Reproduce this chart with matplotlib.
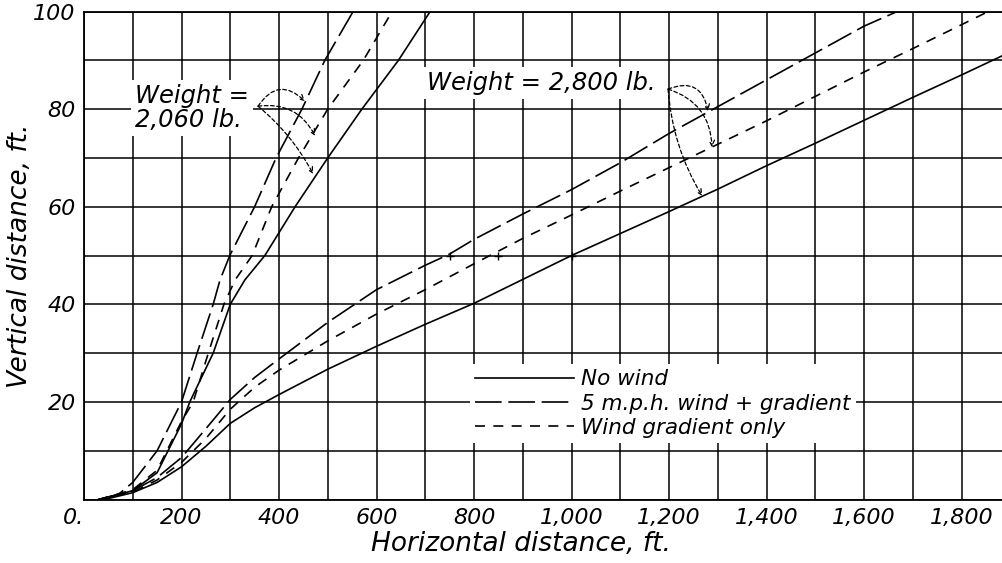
import matplotlib
matplotlib.use("Agg")
import matplotlib.pyplot as plt
from matplotlib.lines import Line2D

plt.rcParams['font.family'] = 'DejaVu Sans'
plt.rcParams['font.style'] = 'italic'

# take-off flight paths, horizontal distance (ft) vs height (ft)
# weight = 2,800 lb
heavy_x_calm = [30, 50, 100, 150, 200, 250, 300, 350, 400, 500, 600, 700, 800, 900, 1000,
                1100, 1200, 1300, 1400, 1500, 1600, 1700, 1800, 1885]
heavy_y_calm = [0, 0.2, 1.4, 3.5, 6.7, 10.9, 15.6, 18.8, 21.5, 26.7, 31.4, 35.9, 40.2, 45.1, 50,
                54.5, 59, 63.6, 68.4, 73, 77.7, 82.4, 87, 91]
heavy_x_wind = [30, 100, 150, 200, 250, 300, 350, 400, 500, 600, 700, 750, 800, 900, 1000,
                1100, 1200, 1300, 1400, 1500, 1600, 1668]
heavy_y_wind = [0, 1.8, 4.5, 8.6, 14.5, 20.5, 25, 28.8, 36.3, 43, 48, 50.3, 53.3, 58.5, 63.5,
                69, 75, 80.5, 86, 91.5, 97, 100]
heavy_x_grad = [30, 100, 150, 200, 250, 300, 350, 400, 500, 600, 700, 800, 900, 1000,
                1100, 1200, 1300, 1400, 1500, 1600, 1700, 1800, 1855]
heavy_y_grad = [0, 1.5, 4, 7.6, 12.5, 18.5, 23, 26.5, 32.5, 38, 43, 48.3, 53.5, 58.3,
                63.2, 68, 72.8, 77.6, 82.6, 87.6, 92.4, 97.3, 100]

# weight = 2,060 lb
light_x_calm = [30, 100, 150, 200, 217, 265, 300, 330, 371, 433, 500, 570, 645, 710]
light_y_calm = [0, 1.8, 5.5, 15.5, 20, 30, 40, 45, 50, 60, 70, 80, 90, 100]
light_x_wind = [30, 70, 100, 150, 200, 232, 265, 279, 299, 350, 394, 447, 494, 552]
light_y_wind = [0, 1, 3.5, 10, 20, 30, 40, 45, 50, 60, 70, 80, 90, 100]
light_x_grad = [30, 100, 150, 200, 224, 255, 287, 310, 345, 385, 440, 500, 573, 632]
light_y_grad = [0, 2, 6, 16, 20, 30, 40, 45, 50, 60, 70, 80, 90, 100]

# little check marks on the 50 ft line
mark_x = [750, 850, 1000]
mark_y = [50, 50, 50]

legend_labels = ['No wind', '5 m.p.h. wind + gradient', 'Wind gradient only']
x_ticks = list(range(0, 1900, 100))
y_ticks = list(range(0, 110, 10))

solid = '-'
long_dash = (0, (16, 4))
short_dash = (0, (6, 5))
lw = 1.2

fig = plt.figure(figsize=(10.03, 5.63), dpi=100)
ax = fig.add_axes([84 / 1003, 63.5 / 563, 919 / 1003, 488 / 563])

for xs, ys, ls in [(heavy_x_calm, heavy_y_calm, solid), (heavy_x_wind, heavy_y_wind, long_dash),
                   (heavy_x_grad, heavy_y_grad, short_dash), (light_x_calm, light_y_calm, solid),
                   (light_x_wind, light_y_wind, long_dash), (light_x_grad, light_y_grad, short_dash)]:
    ax.plot(xs, ys, color='black', lw=lw, linestyle=ls, zorder=3)

ax.plot(mark_x, mark_y, linestyle='none', marker='+', ms=6, mew=1.0, color='black', zorder=4)

ax.set_xlim(0, 1885)
ax.set_ylim(0, 100)
ax.set_xticks(x_ticks)
ax.set_yticks(y_ticks)
ax.set_xticklabels(['0.' if v == 0 else ('{:,}'.format(v) if v % 200 == 0 else '') for v in x_ticks])
ax.set_yticklabels(['' if (v == 0 or v % 20) else str(v) for v in y_ticks])
ax.tick_params(length=0, labelsize=16, pad=6)
ax.get_xticklabels()[0].set_horizontalalignment('right')
ax.grid(True, color='black', lw=1.1)
ax.set_axisbelow(True)
for side in ['left', 'bottom', 'top']:
    ax.spines[side].set_linewidth(1.3)
ax.spines['right'].set_visible(False)

ax.set_xlabel('Horizontal distance, ft.', fontsize=19)
ax.xaxis.set_label_coords(0.475, -0.065)
ax.set_ylabel('Vertical distance, ft.', fontsize=19, labelpad=0)

# weight notes with curved dashed pointers
box = dict(facecolor='white', edgecolor='none', pad=3)
ax.text(105, 80.3, 'Weight =\n2,060 lb.', fontsize=17.5, ha='left', va='center',
        linespacing=1.0, bbox=box, zorder=5)
ax.text(703, 85.3, 'Weight = 2,800 lb.', fontsize=17.5, ha='left', va='center', bbox=box, zorder=5)

arrow_kw = dict(arrowstyle='->', lw=0.9, color='black', linestyle=(0, (3, 2)), shrinkA=0, shrinkB=0)
for end, rad in [((453, 81.6), -0.6), ((474, 74.5), -0.35), ((470, 66.7), -0.1)]:
    ax.annotate('', xy=end, xytext=(357, 80.6),
                arrowprops=dict(connectionstyle='arc3,rad=%s' % rad, **arrow_kw), zorder=6)
for end, rad in [((1280, 79.6), -0.6), ((1288, 72.2), -0.35), ((1268, 62.2), 0.12)]:
    ax.annotate('', xy=end, xytext=(1198, 84.1),
                arrowprops=dict(connectionstyle='arc3,rad=%s' % rad, **arrow_kw), zorder=6)

handles = [Line2D([], [], color='black', lw=lw, linestyle=solid),
           Line2D([], [], color='black', lw=lw, linestyle=long_dash),
           Line2D([], [], color='black', lw=lw, linestyle=short_dash)]
leg = ax.legend(handles, legend_labels, loc='lower left', bbox_to_anchor=(0.42, 0.115),
                fontsize=15.5, frameon=True, fancybox=False, framealpha=1, edgecolor='none',
                handlelength=4.6, handletextpad=0.3, labelspacing=0.2, borderpad=0.25,
                borderaxespad=0)
leg.set_zorder(5)

fig.savefig('out.png', dpi=100)
